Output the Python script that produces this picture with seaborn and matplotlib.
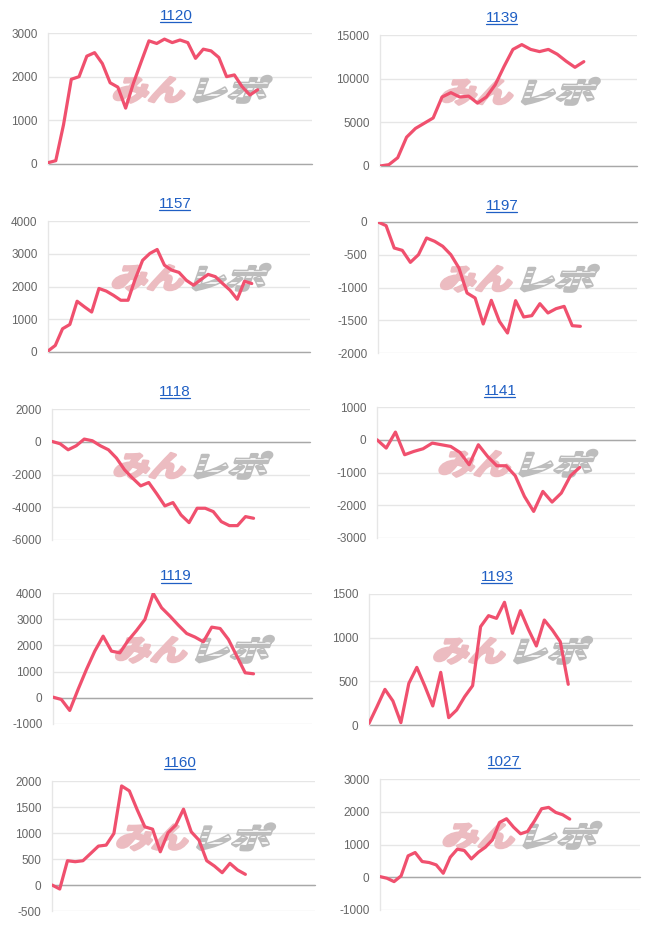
import numpy as np
import pandas as pd
import matplotlib
matplotlib.use("Agg")
import matplotlib.pyplot as plt
import seaborn as sns
from matplotlib.textpath import TextPath
from matplotlib.font_manager import FontProperties
from matplotlib.patches import PathPatch
from matplotlib.transforms import Affine2D
from matplotlib.lines import Line2D

# ---------------- data ----------------
titles = ["1120", "1139", "1157", "1197", "1118", "1141", "1119", "1193", "1160", "1027"]

v1120 = [30, 76, 900, 1940, 2000, 2470, 2550, 2300, 1860, 1760, 1280, 1850, 2340, 2820,
         2760, 2860, 2780, 2840, 2780, 2420, 2630, 2590, 2440, 2000, 2040, 1770, 1580, 1700]
v1139 = [0, 150, 950, 3300, 4300, 4900, 5500, 7900, 8400, 7900, 8000, 7200, 7900, 9300,
         11400, 13350, 13900, 13350, 13100, 13350, 12800, 12000, 11300, 11950]
v1157 = [30, 200, 710, 840, 1550, 1380, 1220, 1940, 1860, 1730, 1580, 1580, 2240, 2800,
         3010, 3130, 2650, 2500, 2430, 2190, 2040, 2210, 2370, 2300, 2090, 1890, 1610, 2160, 2090]
v1197 = [0, -56, -397, -433, -616, -499, -244, -295, -371, -499, -702, -1084, -1160, -1557,
         -1196, -1517, -1695, -1201, -1450, -1430, -1247, -1389, -1323, -1288, -1583, -1593]
v1118 = [20, -120, -490, -245, 163, 61, -245, -490, -1000, -1714, -2224, -2694, -2490, -3184,
         -3918, -3714, -4469, -4939, -4061, -4061, -4265, -4878, -5122, -5122, -4571, -4673]
v1141 = [0, -254, 234, -458, -356, -275, -102, -153, -204, -387, -763, -153, -509, -794,
         -794, -1099, -1730, -2188, -1578, -1903, -1628, -1099, -845]
v1119 = [25, -64, -483, 318, 1081, 1781, 2353, 1781, 1717, 2188, 2570, 2990, 3982, 3435,
         3117, 2774, 2455, 2316, 2137, 2697, 2646, 2226, 1590, 954, 916]
v1193 = [19, 210, 408, 275, 27, 477, 660, 447, 218, 603, 84, 172, 324, 450, 1126, 1252,
         1221, 1405, 1050, 1309, 1095, 905, 1202, 1088, 954, 466]
v1160 = [0, -77, 467, 448, 467, 607, 748, 767, 991, 1905, 1810, 1451, 1119, 1074, 639,
         1004, 1151, 1458, 1023, 863, 467, 364, 237, 416, 288, 205]
v1027 = [20, -31, -133, 41, 653, 755, 480, 449, 378, 122, 612, 857, 816, 561, 765, 918,
         1143, 1673, 1786, 1531, 1327, 1398, 1724, 2092, 2133, 1980, 1908, 1776]

series = [v1120, v1139, v1157, v1197, v1118, v1141, v1119, v1193, v1160, v1027]
n_labels = [35, 30, 37, 33, 33, 29, 32, 34, 35, 38]   # number of x categories per chart
y_min = [0, 0, 0, -2000, -6000, -3000, -1000, 0, -500, -1000]
y_max = [3000, 15000, 4000, 0, 2000, 1000, 4000, 1500, 2000, 3000]
y_step = [1000, 5000, 1000, 500, 2000, 1000, 1000, 500, 500, 1000]

# ---------------- layout (pixels, top-left origin) ----------------
W, H = 651, 925
boxes = [(48, 33, 312, 164), (380, 35, 637, 166),
         (48, 221, 310, 352), (378, 222, 637, 353),
         (52, 409, 310, 540), (377, 407, 635, 538),
         (53, 593, 312, 724), (369, 594, 632, 725),
         (52, 781, 315, 911), (380, 779, 640, 910)]
title_xy = [(176, 20), (502, 21.5), (175, 208), (502, 210), (175, 396),
            (500, 395), (176, 580.5), (497, 581), (180, 767), (504, 766)]

LINE = "#f0506e"
BLUE = "#1f5fc4"
GRID = "#e6e6e6"
ZERO = "#a8a8a8"
TICK = "#666666"

sns.set_theme(style="white")
plt.rcParams["font.family"] = ["Liberation Sans", "DejaVu Sans"]
plt.rcParams["axes.unicode_minus"] = False

fig = plt.figure(figsize=(W / 100, H / 100), dpi=100)
fig.patch.set_facecolor("white")
pix2fig = Affine2D().scale(1.0 / W, 1.0 / H) + fig.transFigure

wm_font = FontProperties(family="Noto Sans CJK JP", weight="bold")


def glyph_patch(text, x0, x1, ytop, ybot, color, skew=14):
    tp = TextPath((0, 0), text, size=1, prop=wm_font)
    p = Affine2D().skew_deg(skew, 0).transform_path(tp)
    e = p.get_extents()
    yb, yt = H - ybot, H - ytop
    tr = (Affine2D().translate(-e.x0, -e.y0)
          .scale((x1 - x0) / e.width, (yt - yb) / e.height)
          .translate(x0, yb))
    p = tr.transform_path(p)
    return PathPatch(p, facecolor=color, edgecolor=color, linewidth=2.2,
                     joinstyle="round", transform=pix2fig, zorder=1)


def watermark(ax, cx, cy):
    pk = glyph_patch("みん", cx - 78, cx - 8, cy - 12, cy + 13, "#ecbcc1")
    ax.add_patch(pk)
    gr = glyph_patch("レポ", cx + 2, cx + 79, cy - 13, cy + 13, "#bdbdbd")
    ax.add_patch(gr)
    for dy in (-6, 0, 6):
        ln = Line2D([cx - 5, cx + 85], [H - (cy + dy), H - (cy + dy)], color="white",
                    lw=1.2, transform=pix2fig, zorder=1.5)
        ln.set_clip_path(gr)
        ax.add_line(ln)


title_artists = []
for i, vals in enumerate(series):
    l, t, r, b = boxes[i]
    ax = fig.add_axes([l / W, 1 - b / H, (r - l) / W, (b - t) / H])
    df = pd.DataFrame({"x": np.arange(len(vals)), "y": vals})
    sns.lineplot(data=df, x="x", y="y", ax=ax, color=LINE, linewidth=2.3, zorder=3)
    ax.set_xlim(0, n_labels[i] - 1)
    ax.set_ylim(y_min[i], y_max[i])
    ticks = np.arange(y_min[i], y_max[i] + y_step[i], y_step[i])
    ax.set_yticks(ticks)
    ax.set_yticklabels([str(int(v)) for v in ticks])
    ax.set_xticks([])
    ax.set_xlabel("")
    ax.set_ylabel("")
    ax.set_axisbelow(True)
    ax.grid(axis="y", color=GRID, linewidth=1)
    ax.grid(axis="x", visible=False)
    if y_min[i] <= 0 <= y_max[i]:
        ax.axhline(0, color=ZERO, linewidth=1, zorder=2, clip_on=False)
    for s in ("top", "right", "bottom"):
        ax.spines[s].set_visible(False)
    ax.spines["left"].set_color(GRID)
    ax.spines["left"].set_linewidth(1)
    ax.tick_params(axis="y", length=0, pad=7.5, labelsize=8.5, labelcolor=TICK)
    ax.set_facecolor("none")
    cx = l + 0.546 * (r - l)
    cy = t + 0.43 * (b - t)
    watermark(ax, cx, cy)
    tx, ty = title_xy[i]
    ta = fig.text(tx / W, 1 - ty / H, titles[i], ha="center", va="baseline",
                  color=BLUE, fontsize=11)
    title_artists.append((ta, ty))

fig.canvas.draw()
renderer = fig.canvas.get_renderer()
for ta, ty in title_artists:
    bb = ta.get_window_extent(renderer)
    yl = H - (ty + 2)
    fig.add_artist(Line2D([bb.x0 + 0.5, bb.x1 - 1.0], [yl, yl], color=BLUE, lw=0.9,
                          transform=pix2fig))

fig.savefig("out.png", dpi=100, facecolor="white")
